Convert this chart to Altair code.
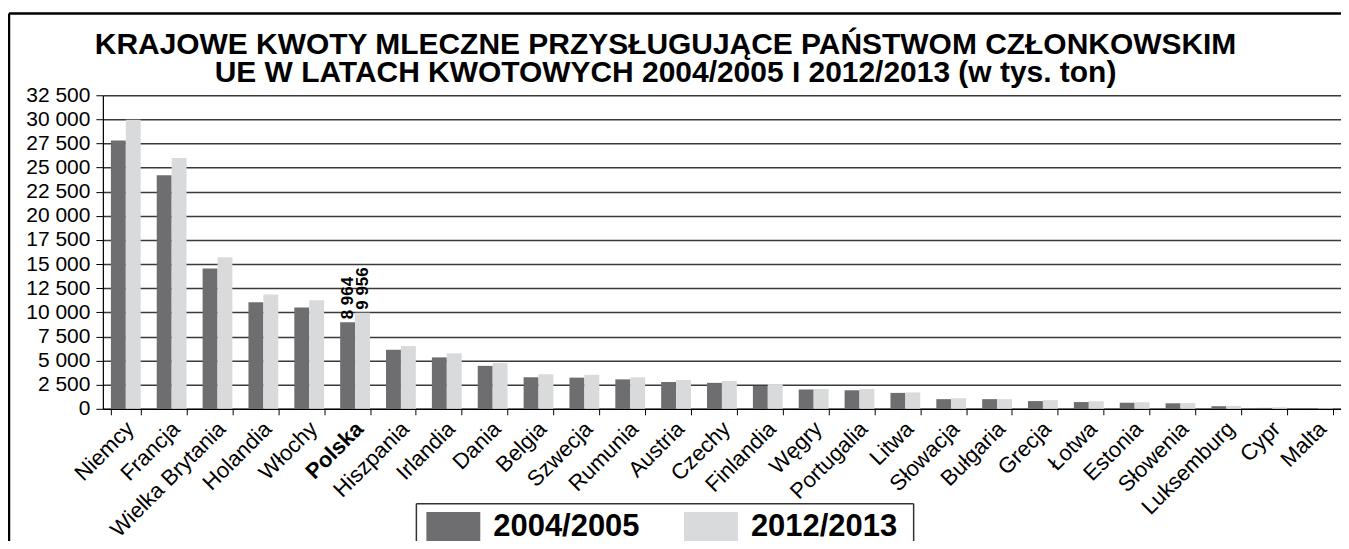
import altair as alt
import pandas as pd

countries = ["Niemcy", "Francja", "Wielka Brytania", "Holandia", "Włochy", "Polska",
             "Hiszpania", "Irlandia", "Dania", "Belgia", "Szwecja", "Rumunia", "Austria",
             "Czechy", "Finlandia", "Węgry", "Portugalia", "Litwa", "Słowacja", "Bułgaria",
             "Grecja", "Łotwa", "Estonia", "Słowenia", "Luksemburg", "Cypr", "Malta"]
q2004 = [27800, 24200, 14550, 11050, 10500, 8964, 6120, 5330, 4450, 3270, 3230, 3050, 2780,
         2690, 2370, 2000, 1920, 1650, 1000, 1000, 800, 700, 620, 570, 270, 90, 48]
q2012 = [29950, 26000, 15700, 11850, 11250, 9956, 6500, 5750, 4750, 3580, 3520, 3270, 2990,
         2890, 2560, 2050, 2050, 1700, 1100, 1000, 900, 780, 680, 590, 300, 150, 49]
years = ["2004/2005", "2012/2013"]
colors = ["#6e6e70", "#d9dadb"]
y_ticks = list(range(0, 32501, 2500))
title_lines = ["KRAJOWE KWOTY MLECZNE PRZYSŁUGUJĄCE PAŃSTWOM CZŁONKOWSKIM",
               "UE W LATACH KWOTOWYCH 2004/2005 I 2012/2013 (w tys. ton)"]
highlight = "Polska"

rows = []
for c, a, b in zip(countries, q2004, q2012):
    rows.append({"country": c, "year": years[0], "value": a})
    rows.append({"country": c, "year": years[1], "value": b})
df = pd.DataFrame(rows)

FONT = "Liberation Sans, Arial, sans-serif"
W, H = 1240, 314

x_enc = alt.X("country:N", sort=countries,
              scale=alt.Scale(paddingInner=0.35, paddingOuter=0.175),
              axis=alt.Axis(title=None, labelAngle=-45, labelAlign="right",
                            labelBaseline="top", labelFontSize=22, labelFont=FONT,
                            labelColor="black", labelPadding=3, labelOffset=-3,
                            labelFontWeight=alt.condition(f"datum.value == '{highlight}'",
                                                          alt.value("bold"), alt.value("normal")),
                            tickBand="extent", tickSize=6, tickColor="black",
                            domainColor="black", domainWidth=1.2, labelOverlap=False,
                            labelLimit=400))
y_enc = alt.Y("value:Q", scale=alt.Scale(domain=[0, 32500], nice=False),
              axis=alt.Axis(title=None, values=y_ticks, labelOverlap=False,
                            labelExpr="replace(format(datum.value, ','), ',', ' ')",
                            labelFontSize=21, labelFont=FONT, labelColor="black",
                            labelPadding=6, tickSize=7, tickColor="black",
                            domainColor="black", domainWidth=1.2,
                            grid=True, gridColor="#3a3a3a", gridWidth=1.5))

bars = alt.Chart(df).mark_bar().encode(
    x=x_enc,
    xOffset=alt.XOffset("year:N", sort=years, scale=alt.Scale(paddingInner=0, paddingOuter=0)),
    y=y_enc,
    color=alt.Color("year:N", sort=years,
                    scale=alt.Scale(domain=years, range=colors),
                    legend=alt.Legend(orient="none", legendX=324, legendY=405.5,
                                      direction="horizontal", title=None,
                                      symbolType="M-1,-0.574H1V0.574H-1Z", symbolSize=2916,
                                      symbolStrokeWidth=0, labelFontSize=31, labelFont=FONT,
                                      labelFontWeight="bold", labelColor="black",
                                      labelOffset=13, columnPadding=44, padding=0,
                                      labelLimit=400)),
)

labels = alt.Chart(df).transform_filter(
    f"datum.country == '{highlight}'"
).transform_calculate(
    lab="replace(format(datum.value, ','), ',', ' ')"
).mark_text(angle=270, align="left", baseline="middle", dx=3, fontSize=17,
            fontWeight="bold", font=FONT, color="black").encode(
    x=x_enc,
    xOffset=alt.XOffset("year:N", sort=years, scale=alt.Scale(paddingInner=0, paddingOuter=0)),
    y=y_enc,
    text="lab:N",
)

title_df = alt.Data(values=[{"line": 0, "t": title_lines[0]}, {"line": 1, "t": title_lines[1]}])
title = alt.Chart(title_df).mark_text(
    font=FONT, fontSize=30, fontWeight="bold", color="black",
    align="center", baseline="alphabetic", x=563.5, y=-41
).encode(
    text="t:N",
    yOffset=alt.YOffset("line:Q", scale=alt.Scale(domain=[0, 1], range=[0, 28])),
)

one = alt.Data(values=[{"k": 1}])
frame_left = alt.Chart(one).mark_rule(color="black", strokeWidth=2.5).encode(
    x=alt.value(-94), y=alt.value(-82), y2=alt.value(520))
frame_top = alt.Chart(one).mark_rule(color="black", strokeWidth=2.5).encode(
    x=alt.value(-94), x2=alt.value(1260), y=alt.value(-82))
leg_left = alt.Chart(one).mark_rule(color="#333333", strokeWidth=1.5).encode(
    x=alt.value(314), y=alt.value(409), y2=alt.value(520))
leg_right = alt.Chart(one).mark_rule(color="#333333", strokeWidth=1.5).encode(
    x=alt.value(812), y=alt.value(409), y2=alt.value(520))
leg_top = alt.Chart(one).mark_rule(color="#333333", strokeWidth=1.5).encode(
    x=alt.value(314), x2=alt.value(812), y=alt.value(409))

chart = alt.layer(bars, labels, title, frame_left, frame_top, leg_left, leg_right, leg_top).properties(
    width=W, height=H,
    autosize=alt.AutoSizeParams(type="none"),
    padding={"left": 95, "top": 87, "right": 0, "bottom": 132},
).configure_view(stroke=None).configure(background="white")

chart.save("out.html", embed_options={"renderer": "svg", "actions": False})
